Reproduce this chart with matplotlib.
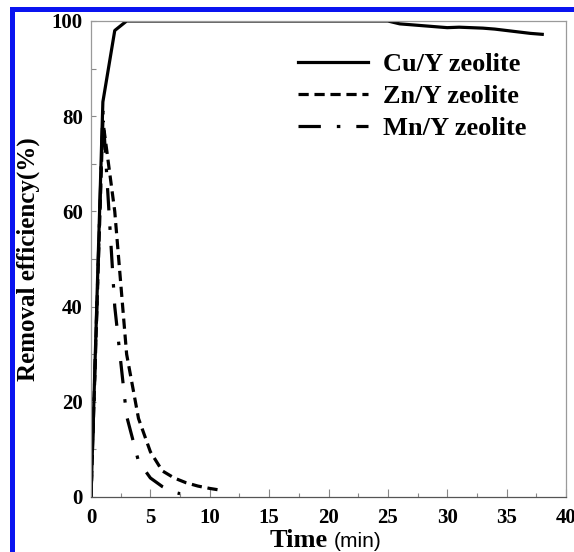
import matplotlib
matplotlib.use("Agg")
import matplotlib.pyplot as plt
from matplotlib.patches import Rectangle

# ---- data ----
cu_time = [0, 1, 2, 3, 4, 5, 6, 7, 8, 9, 10, 11, 12, 13, 14, 15, 16, 17, 18, 19,
           20, 21, 22, 23, 24, 25, 26, 27, 28, 29, 30, 31, 32, 33, 34, 35, 36, 37, 38]
cu_eff = [0, 83, 98, 100, 100, 100, 100, 100, 100, 100, 100, 100, 100, 100, 100, 100,
          100, 100, 100, 100, 100, 100, 100, 100, 100, 100, 99.4, 99.2, 99.0, 98.8,
          98.6, 98.7, 98.6, 98.5, 98.3, 98.0, 97.7, 97.4, 97.2]
zn_time = [0, 1, 2, 3, 4, 5, 6, 7, 8, 9, 10, 11]
zn_eff = [0, 79, 60, 30, 16.5, 9.5, 5.5, 4.0, 3.0, 2.3, 1.8, 1.4]
mn_time = [0, 1, 2, 3, 4, 5, 6, 7, 7.5]
mn_eff = [0, 81, 40, 17, 7.5, 4.0, 2.2, 1.0, 0.7]
series_labels = ["Cu/Y zeolite", "Zn/Y zeolite", "Mn/Y zeolite"]
x_ticks = [0, 5, 10, 15, 20, 25, 30, 35, 40]
y_ticks = [0, 20, 40, 60, 80, 100]

plt.rcParams['font.family'] = ['Liberation Serif', 'DejaVu Serif']
plt.rcParams['font.weight'] = 'bold'

W, H = 574, 552
fig = plt.figure(figsize=(W / 100, H / 100), dpi=100)
ax = fig.add_axes([91 / W, 1 - 497 / H, (566 - 91) / W, (497 - 21) / H])

lw = 2.3
ax.plot(cu_time, cu_eff, color='black', lw=lw, solid_joinstyle='round',
        label=series_labels[0])
l2, = ax.plot(zn_time, zn_eff, color='black', lw=lw, label=series_labels[1])
l2.set_dashes((3.2, 1.8))
l3, = ax.plot(mn_time, mn_eff, color='black', lw=lw, label=series_labels[2])
l3.set_dashes((7, 5, 1.1, 5))

ax.set_xlim(0, 40)
ax.set_ylim(0, 100)
ax.set_xticks(x_ticks)
ax.set_xticks([2.5 + 5 * i for i in range(8)], minor=True)
ax.set_yticks(y_ticks)
ax.set_yticks([10, 30, 50, 70, 90], minor=True)

for s in ['left', 'right', 'top']:
    ax.spines[s].set_color('#9a9a9a')
    ax.spines[s].set_linewidth(0.9)
ax.spines['bottom'].set_color('#555555')
ax.spines['bottom'].set_linewidth(0.9)

ax.tick_params(axis='x', which='major', direction='in', length=5.8, width=0.8,
               color='#888888', pad=8, labelsize=15)
ax.tick_params(axis='x', which='minor', direction='in', length=2.9, width=0.8,
               color='#888888')
ax.tick_params(axis='y', which='both', direction='in', length=3.6, width=0.8,
               color='#888888', pad=6, labelsize=15)

ax.set_ylabel("Removal efficiency(%)", fontsize=18, fontweight='bold')
ax.yaxis.set_label_coords((40 - 91) / 475, 0.5)

fig.text(270 / W, 1 - 547 / H, "Time", fontsize=19, fontweight='bold',
         ha='left', va='baseline')
fig.text(334 / W, 1 - 547 / H, "(min)", fontsize=15, fontweight='normal',
         family=['Liberation Sans', 'DejaVu Sans'], ha='left', va='baseline')

leg = ax.legend(loc='upper left', bbox_to_anchor=((298 - 91) / 475, 1 - (53 - 21) / 476),
                frameon=False, fontsize=19, handlelength=2.65, handletextpad=0.57,
                labelspacing=0.32, borderpad=0, borderaxespad=0)

# blue frame (top and left)
fig.add_artist(Rectangle((10 / W, 0), 5 / W, 1 - 7 / H, transform=fig.transFigure,
                         color='#0a14f0', lw=0))
fig.add_artist(Rectangle((10 / W, 1 - 12 / H), 1, 5 / H, transform=fig.transFigure,
                         color='#0a14f0', lw=0))

fig.savefig("out.png", dpi=100)
